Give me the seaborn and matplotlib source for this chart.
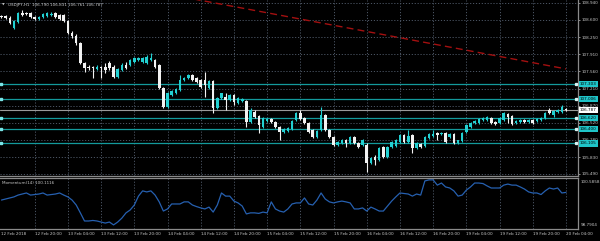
import numpy as np
import pandas as pd
import matplotlib
matplotlib.use("Agg")
import matplotlib.pyplot as plt
import matplotlib.transforms as mtransforms
import seaborn as sns

# ---------------- data ----------------
opens = [108.68, 108.68, 108.64, 108.44, 108.56, 108.74, 108.74, 108.74, 108.66, 108.62,
         108.66, 108.68, 108.70, 108.74, 108.70, 108.70, 108.58, 108.33, 108.27, 108.13,
         107.73, 107.65, 107.65, 107.61, 107.65, 107.65, 107.73, 107.65, 107.45, 107.59,
         107.69, 107.69, 107.75, 107.79, 107.75, 107.73, 107.79, 107.79, 107.69, 107.22,
         106.84, 107.08, 107.12, 107.18, 107.39, 107.43, 107.49, 107.43, 107.39, 107.39,
         107.22, 107.37, 106.82, 107.02, 107.04, 106.98, 107.08, 106.92, 106.96, 106.96,
         106.54, 106.74, 106.66, 106.44, 106.56, 106.60, 106.54, 106.44, 106.34, 106.36,
         106.40, 106.58, 106.72, 106.62, 106.52, 106.38, 106.24, 106.38, 106.68, 106.38,
         106.24, 106.07, 106.12, 106.18, 106.12, 106.24, 106.12, 106.07, 106.07, 105.71,
         105.83, 105.77, 106.03, 105.83, 106.03, 106.05, 106.14, 106.28, 106.14, 106.28,
         106.01, 106.10, 106.05, 106.22, 106.26, 106.32, 106.30, 106.32, 106.24, 106.30,
         106.12, 106.16, 106.34, 106.44, 106.52, 106.52, 106.58, 106.58, 106.62, 106.54,
         106.52, 106.58, 106.70, 106.66, 106.52, 106.54, 106.58, 106.54, 106.58, 106.56,
         106.58, 106.62, 106.78, 106.68, 106.74, 106.74, 106.790]
highs = [108.70, 108.70, 108.68, 108.60, 108.76, 108.80, 108.76, 108.76, 108.68, 108.68,
         108.74, 108.76, 108.76, 108.76, 108.72, 108.72, 108.60, 108.38, 108.31, 108.15,
         107.75, 107.69, 107.67, 107.69, 107.67, 107.73, 107.77, 107.69, 107.63, 107.73,
         107.75, 107.81, 107.85, 107.85, 107.85, 107.89, 107.93, 107.81, 107.71, 107.24,
         107.14, 107.18, 107.22, 107.49, 107.45, 107.51, 107.51, 107.45, 107.41, 107.55,
         107.39, 107.39, 107.04, 107.12, 107.12, 107.10, 107.10, 107.04, 107.02, 106.98,
         106.82, 106.78, 106.68, 106.64, 106.62, 106.62, 106.56, 106.46, 106.42, 106.44,
         106.58, 106.74, 106.78, 106.64, 106.54, 106.40, 106.38, 106.84, 106.70, 106.40,
         106.26, 106.16, 106.20, 106.20, 106.26, 106.26, 106.14, 106.20, 106.12, 105.83,
         105.87, 106.03, 106.05, 106.05, 106.16, 106.20, 106.30, 106.30, 106.38, 106.30,
         106.14, 106.12, 106.26, 106.32, 106.38, 106.34, 106.34, 106.34, 106.32, 106.32,
         106.18, 106.34, 106.50, 106.54, 106.58, 106.62, 106.64, 106.66, 106.64, 106.56,
         106.64, 106.74, 106.72, 106.68, 106.58, 106.60, 106.60, 106.60, 106.60, 106.62,
         106.64, 106.74, 106.82, 106.78, 106.80, 106.88, 106.831]
lows = [108.64, 108.62, 108.52, 108.42, 108.54, 108.68, 108.70, 108.64, 108.60, 108.60,
        108.64, 108.66, 108.68, 108.64, 108.60, 108.56, 108.31, 108.23, 108.09, 107.71,
        107.55, 107.59, 107.43, 107.59, 107.43, 107.53, 107.59, 107.43, 107.43, 107.57,
        107.61, 107.67, 107.73, 107.77, 107.73, 107.71, 107.77, 107.63, 107.20, 106.82,
        106.82, 107.06, 107.10, 107.16, 107.37, 107.41, 107.37, 107.33, 107.22, 107.04,
        107.20, 106.72, 106.80, 107.00, 106.78, 106.96, 106.88, 106.90, 106.94, 106.44,
        106.52, 106.62, 106.32, 106.42, 106.54, 106.52, 106.42, 106.18, 106.32, 106.34,
        106.38, 106.56, 106.58, 106.50, 106.32, 106.22, 106.22, 106.36, 106.36, 106.22,
        106.05, 106.05, 106.10, 106.03, 106.10, 106.10, 106.01, 106.05, 105.53, 105.69,
        105.67, 105.75, 105.81, 105.81, 106.01, 106.03, 106.12, 106.12, 106.12, 105.91,
        105.99, 106.01, 106.03, 106.20, 106.24, 106.18, 106.28, 106.12, 106.22, 106.10,
        106.10, 106.14, 106.32, 106.42, 106.50, 106.50, 106.56, 106.56, 106.50, 106.48,
        106.50, 106.56, 106.52, 106.48, 106.50, 106.52, 106.52, 106.52, 106.50, 106.54,
        106.56, 106.60, 106.70, 106.64, 106.72, 106.72, 106.761]
closes = [108.66, 108.64, 108.54, 108.58, 108.74, 108.70, 108.72, 108.66, 108.62, 108.66,
          108.72, 108.74, 108.72, 108.66, 108.62, 108.58, 108.33, 108.27, 108.13, 107.73,
          107.63, 107.63, 107.63, 107.65, 107.63, 107.59, 107.63, 107.45, 107.61, 107.69,
          107.63, 107.79, 107.83, 107.83, 107.83, 107.85, 107.83, 107.65, 107.22, 106.84,
          107.12, 107.16, 107.20, 107.39, 107.43, 107.49, 107.39, 107.35, 107.24, 107.29,
          107.37, 106.82, 107.02, 107.12, 106.98, 107.08, 106.94, 107.02, 107.00, 106.54,
          106.78, 106.64, 106.48, 106.62, 106.60, 106.54, 106.44, 106.34, 106.40, 106.42,
          106.56, 106.72, 106.60, 106.52, 106.34, 106.24, 106.36, 106.68, 106.38, 106.24,
          106.07, 106.14, 106.18, 106.12, 106.24, 106.12, 106.03, 106.18, 105.71, 105.81,
          105.77, 106.01, 105.83, 106.03, 106.14, 106.18, 106.28, 106.14, 106.26, 106.01,
          106.12, 106.03, 106.24, 106.30, 106.30, 106.28, 106.32, 106.14, 106.30, 106.12,
          106.18, 106.32, 106.48, 106.52, 106.56, 106.60, 106.62, 106.64, 106.52, 106.50,
          106.62, 106.72, 106.64, 106.50, 106.56, 106.58, 106.54, 106.58, 106.52, 106.60,
          106.62, 106.72, 106.72, 106.76, 106.78, 106.84, 106.787]
momentum = [99.82, 99.86, 99.90, 99.94, 100.01, 100.05, 100.09, 100.01, 100.03, 100.05,
            100.09, 100.01, 100.03, 100.05, 100.09, 100.01, 99.94, 99.82, 99.63, 99.33,
            99.02, 99.02, 99.04, 99.02, 98.98, 98.94, 98.98, 98.87, 98.98, 99.13,
            99.33, 99.44, 99.63, 99.97, 100.17, 100.13, 100.17, 100.01, 99.75, 99.40,
            99.48, 99.67, 99.67, 99.67, 99.75, 99.75, 99.63, 99.57, 99.52, 99.48,
            99.55, 99.36, 99.63, 100.09, 99.97, 99.97, 99.78, 99.71, 99.59, 99.29,
            99.33, 99.33, 99.31, 99.36, 99.33, 99.75, 99.48, 99.40, 99.36, 99.48,
            99.67, 99.71, 99.71, 99.90, 99.67, 99.63, 99.82, 100.09, 99.86, 99.75,
            99.71, 99.75, 99.78, 99.75, 99.71, 99.48, 99.48, 99.52, 99.40, 99.55,
            99.48, 99.40, 99.40, 99.59, 99.78, 99.94, 100.09, 100.07, 100.05, 99.97,
            100.05, 100.01, 100.55, 100.59, 100.59, 100.39, 100.47, 100.32, 100.28, 100.17,
            99.97, 100.01, 100.20, 100.32, 100.47, 100.47, 100.45, 100.36, 100.28, 100.28,
            100.28, 100.39, 100.43, 100.39, 100.39, 100.32, 100.24, 100.13, 100.09, 100.09,
            100.03, 100.17, 100.28, 100.24, 100.28, 100.09, 100.1116]

time_labels = ["12 Feb 2018", "12 Feb 20:00", "13 Feb 04:00", "13 Feb 12:00", "13 Feb 20:00",
               "14 Feb 04:00", "14 Feb 12:00", "14 Feb 20:00", "15 Feb 04:00", "15 Feb 12:00",
               "15 Feb 20:00", "16 Feb 04:00", "16 Feb 12:00", "16 Feb 20:00", "19 Feb 04:00",
               "19 Feb 12:00", "19 Feb 20:00", "20 Feb 04:00"]
label_bars = [0, 8, 16, 24, 32, 40, 48, 56, 64, 72, 80, 88, 96, 104, 112, 120, 128, 136]
price_ticks = [108.940, 108.600, 108.250, 107.910, 107.560, 107.210,
               106.870, 106.520, 106.180, 105.830, 105.490]
levels = [107.303, 107.006, 106.620, 106.400, 106.105]
current_price = 106.787
trend_bars = [40, 136]
trend_prices = [109.12, 107.61]
mom_ticks = [100.5858, 98.7904]
title = "USDJPY,H1  106.790 106.831 106.761 106.787"
mom_title = "Momentum(14) 100.1116"

df = pd.DataFrame({"open": opens, "high": highs, "low": lows, "close": closes,
                   "momentum": momentum})
df["bar"] = np.arange(len(df))

# ---------------- style ----------------
sns.set_style("dark")
plt.rcParams["font.family"] = ["DejaVu Sans"]
BG = "#000000"
GRID = "#4b5563"
TXT = "#c8c8c8"
UP = "#22d0d2"
DOWN = "#f2f2f2"
LEVEL = "#139a9c"
LEVEL_BOX = "#1fc4c8"
FS = 2.95

W, H = 600, 241
fig = plt.figure(figsize=(W / 100, H / 100), dpi=100, facecolor=BG)
ax = fig.add_axes([0, (H - 176) / H, 578 / W, 176 / H])
ax2 = fig.add_axes([0, (H - 229) / H, 578 / W, 51 / H], sharex=ax)

for a in (ax, ax2):
    a.set_facecolor(BG)
    for s in a.spines.values():
        s.set_color("#8a8a8a")
        s.set_linewidth(0.9)
    a.spines["left"].set_visible(False)

ax.spines["top"].set_visible(False)

x0 = -0.36
x1 = 138.9
ax.set_xlim(x0, x1)
ax.set_ylim(105.449, 109.0005)
ax2.set_ylim(98.714, 100.662)

# grid + price scale
ax.set_yticks(price_ticks)
ax.yaxis.tick_right()
ax.yaxis.set_major_formatter(matplotlib.ticker.FormatStrFormatter("%.3f"))
ax.tick_params(axis="y", labelsize=FS, colors=TXT, length=1.5, width=0.5, pad=1.2)
ax.tick_params(axis="x", length=0, labelbottom=False)
ax.set_xticks(label_bars)
ax.grid(True, color=GRID, linestyle=(0, (1.2, 1.8)), linewidth=0.7)
ax.get_xgridlines()[0].set_visible(False)

ax2.set_xticks(label_bars)
ax2.set_xticklabels(time_labels)
for t in ax2.get_xticklabels():
    t.set_horizontalalignment("left")
ax2.tick_params(axis="x", labelsize=FS, colors=TXT, length=1.5, width=0.5, pad=1.0)
ax2.set_yticks(mom_ticks)
ax2.yaxis.tick_right()
ax2.yaxis.set_major_formatter(matplotlib.ticker.FormatStrFormatter("%.4f"))
ax2.tick_params(axis="y", labelsize=FS, colors=TXT, length=0, pad=2.2)
ax2.grid(True, axis="x", color=GRID, linestyle=(0, (1.2, 1.8)), linewidth=0.7)
ax2.grid(False, axis="y")
ax2.get_xgridlines()[0].set_visible(False)
yl = ax2.get_yticklabels()
yl[0].set_verticalalignment("top")
yl[1].set_verticalalignment("bottom")

# levels (horizontal lines)
blend = mtransforms.blended_transform_factory(ax.transAxes, ax.transData)
for lv in levels:
    ax.axhline(lv, color=LEVEL, lw=0.9, zorder=2)
    ax.text(1.003, lv, f"{lv:.3f}", transform=blend, fontsize=FS, color="black",
            va="center", ha="left", zorder=6,
            bbox=dict(boxstyle="square,pad=0.25", fc=LEVEL_BOX, ec="none"))
ax.plot([0.0] * len(levels), levels, "s", ms=1.6, color="#7ae6e8", zorder=5, clip_on=False)
ax.plot([138.4] * len(levels), levels, "s", ms=1.4, color="#d8f4f4", zorder=5, clip_on=False)

# current price
ax.axhline(current_price, color="#9a9a9a", lw=0.8, zorder=2)
ax.text(1.003, current_price, f"{current_price:.3f}", transform=blend, fontsize=FS,
        color="black", va="center", ha="left", zorder=7,
        bbox=dict(boxstyle="square,pad=0.25", fc="#ffffff", ec="none"))

# trend line
ax.plot(trend_bars, trend_prices, color="#a31010", lw=1.0, ls=(0, (5, 3)), zorder=3)

# candles
up = df["close"] >= df["open"]
body_low = np.minimum(df["open"], df["close"])
body_h = np.maximum((df["close"] - df["open"]).abs(), 0.006)
colors = np.where(up, UP, DOWN)
ax.vlines(df["bar"], df["low"], df["high"], colors=colors, lw=0.8, zorder=4)
ax.bar(df["bar"], body_h, bottom=body_low, width=0.62, color=colors, lw=0, zorder=5)

# momentum line
sns.lineplot(data=df, x="bar", y="momentum", ax=ax2, color="#2660b0", lw=0.9)
ax2.set_xlabel("")
ax2.set_ylabel("")

# titles
ax.text(2 / 578, 1 - 5 / 176, "\u25bc", transform=ax.transAxes, fontsize=2.4,
        color=TXT, va="center", ha="left")
ax.text(8 / 578, 1 - 5 / 176, title, transform=ax.transAxes, fontsize=FS,
        color=TXT, va="center", ha="left")
ax2.text(2 / 578, 1 - 5 / 51, mom_title, transform=ax2.transAxes, fontsize=FS,
         color=TXT, va="center", ha="left")

fig.savefig("out.png", dpi=100, facecolor=BG)
